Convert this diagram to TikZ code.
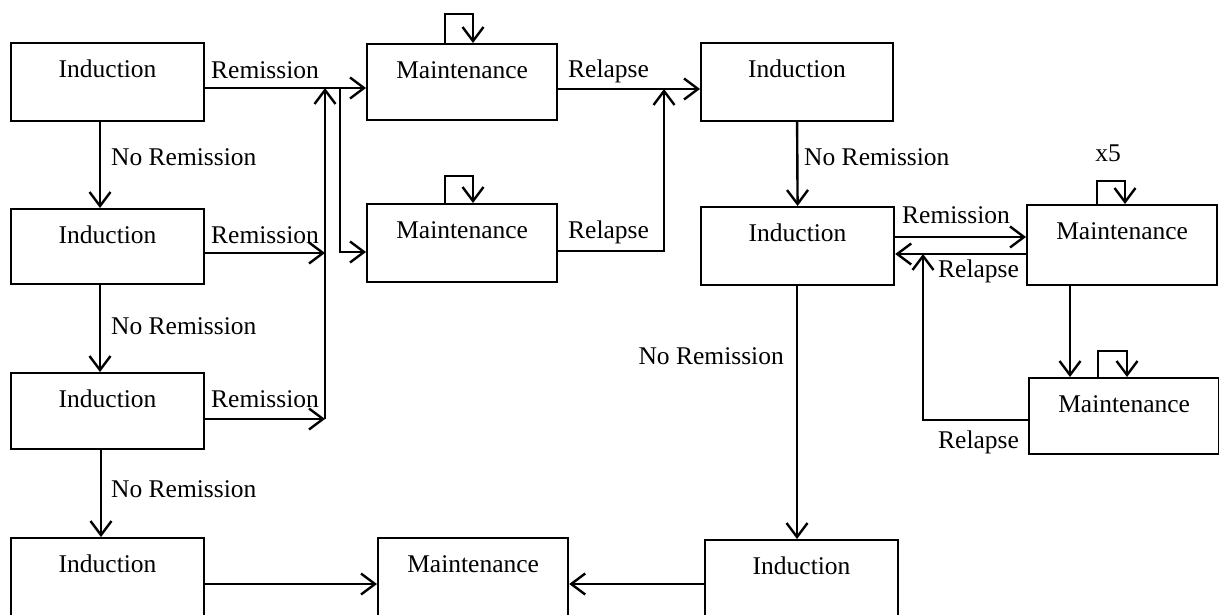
\documentclass[tikz,border=0pt]{standalone}
\usepackage{fontspec}
\setmainfont{Liberation Serif}
\usetikzlibrary{arrows.meta}
\newcommand\dfont{\fontsize{25.5}{30}\selectfont}
\begin{document}
\begin{tikzpicture}[x=1pt,y=-1pt,line width=2.4pt,
  box/.style={draw,line width=2.2pt,inner sep=0pt,anchor=north west,font=\dfont,text height=34pt},
  lab/.style={inner sep=0pt,anchor=base west,font=\dfont},
  arr/.style={-{Straight Barb[length=14pt,width=21pt]}}]
\useasboundingbox (0,0) rectangle (1219,615);
% boxes
\node[box,minimum width=193pt,text depth=44pt] (A1) at (10,42) {Induction};
\node[box,minimum width=193pt,text depth=41pt] (A2) at (10,208) {Induction};
\node[box,minimum width=193pt,text depth=42pt] (A3) at (10,372) {Induction};
\node[box,minimum width=193pt,text depth=59pt] (A4) at (10,537) {Induction};
\node[box,minimum width=190pt,text depth=42pt] (M1) at (366,43) {Maintenance};
\node[box,minimum width=190pt,text depth=44pt] (M2) at (366,203) {Maintenance};
\node[box,minimum width=192pt,text depth=44pt] (B1) at (700,42) {Induction};
\node[box,minimum width=193pt,text depth=44pt] (B2) at (700,206) {Induction};
\node[box,minimum width=190pt,text depth=46pt] (M3) at (1026,204) {Maintenance};
\node[box,minimum width=190pt,text depth=42pt] (M4) at (1028,377) {Maintenance};
\node[box,minimum width=193pt,text depth=57pt] (B3) at (704,539) {Induction};
\node[box,minimum width=190pt,text depth=59pt] (M5) at (377,537) {Maintenance};
% junction coordinates
\coordinate (jTop) at (325,88);
\coordinate (jA2) at (325,253);
\coordinate (jA3) at (325,419);
\coordinate (jBr) at (340,88);
\coordinate (jBr2) at (340,252);
\coordinate (jR) at (664,89);
\coordinate (jR2) at (664,251);
\coordinate (m1a) at (445,14);
\coordinate (m1b) at (473,14);
\coordinate (m2a) at (445,176);
\coordinate (m2b) at (473,176);
\coordinate (rem) at (960,237);
\coordinate (rel) at (960,254);
\coordinate (m3a) at (1097,181);
\coordinate (m3b) at (1125,181);
\coordinate (m4a) at (1098,351);
\coordinate (m4b) at (1127,351);
\coordinate (mm) at (1070,0);
\coordinate (rl) at (923,420);
\coordinate (bv) at (797,0);
\coordinate (bm) at (0,584);
% left column
\draw[arr] ([xshift=90pt]A1.south west) -- ([xshift=90pt]A2.north west);
\draw[arr] ([xshift=90pt]A2.south west) -- ([xshift=90pt]A3.north west);
\draw[arr] ([xshift=91pt]A3.south west) -- ([xshift=91pt]A4.north west);
\draw[arr] (A1.east |- jTop) -- (M1.west |- jTop);
\draw[arr] (A2.east |- jA2) -- (jA2);
\draw[arr] (A3.east |- jA3) -- (jA3);
\draw[arr] (jA3) -- (jTop);
\draw[arr] (jBr) -- (jBr2) -- (M2.west |- jBr2);
% maintenance loops
\draw[arr] (M1.north -| m1a) -- (m1a) -- (m1b) -- (M1.north -| m1b);
\draw[arr] (M2.north -| m2a) -- (m2a) -- (m2b) -- (M2.north -| m2b);
\draw[arr] (M1.east |- jR) -- (B1.west |- jR);
\draw[arr] (M2.east |- jR2) -- (jR2) -- (jR);
% right part
\draw[arr] (B1.south) -- (B2.north);
\draw[arr] (B2.east |- rem) -- (M3.west |- rem);
\draw[arr] (M3.west |- rel) -- (B2.east |- rel);
\draw[arr] (M3.north -| m3a) -- (m3a) -- (m3b) -- (M3.north -| m3b);
\draw[arr] (M3.south -| mm) -- (M4.north -| mm);
\draw[arr] (M4.north -| m4a) -- (m4a) -- (m4b) -- (M4.north -| m4b);
\draw[arr] (M4.west |- rl) -- (rl) -- (rl |- rel);
\draw[arr] (B2.south -| bv) -- (B3.north -| bv);
\draw[arr] (B3.west |- bm) -- (M5.east |- bm);
\draw[arr] (A4.east |- bm) -- (M5.west |- bm);
% labels
\node[lab] (l1) at (210,79) {Remission};
\node[lab] (l2) at (210,243) {Remission};
\node[lab] (l3) at (210,407) {Remission};
\node[lab] (l4) at (110,166) {No Remission};
\node[lab] (l5) at (110,334) {No Remission};
\node[lab] (l6) at (110,497) {No Remission};
\node[lab] (l7) at (567,78) {Relapse};
\node[lab] (l8) at (567,238) {Relapse};
\node[lab] (l9) at (803,166) {No Remission};
\node[lab] (l10) at (901,223) {Remission};
\node[lab] (l11) at (937,277) {Relapse};
\node[lab] (l12) at (937,448) {Relapse};
\node[lab,anchor=base] (l13) at (1108,162) {x5};
\node[lab,anchor=base east] (l14) at (785,364) {No Remission};
\end{tikzpicture}
\end{document}
